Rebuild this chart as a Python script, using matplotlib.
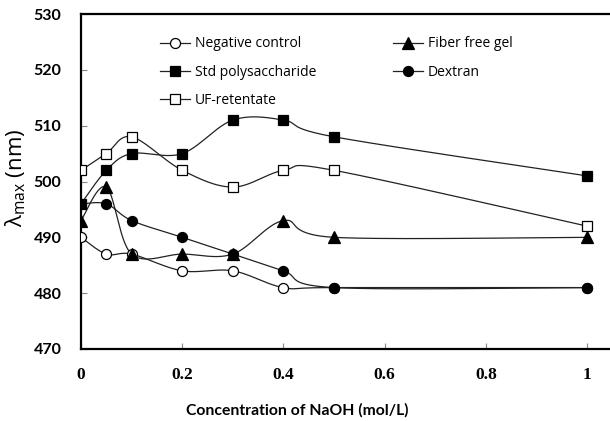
import numpy as np
import matplotlib
matplotlib.use("Agg")
import matplotlib.pyplot as plt
from matplotlib.lines import Line2D

# NaOH concentration (mol/L)
naoh = [0, 0.05, 0.1, 0.2, 0.3, 0.4, 0.5, 1.0]

# lambda max (nm) for each sample
negative_control = [490, 487, 487, 484, 484, 481, 481, 481]
fiber_free_gel = [493, 499, 487, 487, 487, 493, 490, 490]
std_polysaccharide = [496, 502, 505, 505, 511, 511, 508, 501]
dextran = [496, 496, 493, 490, 487, 484, 481, 481]
uf_retentate = [502, 505, 508, 502, 499, 502, 502, 492]

W, H = 610, 421
fig = plt.figure(figsize=(W / 100, H / 100), dpi=100)
ax = fig.add_axes([81 / W, (H - 349) / H, (W - 81) / W, (349 - 14) / H])
ax.set_xlim(0, 1.045)
ax.set_ylim(470, 530)


def smooth(xs, ys, n=40):
    """Spline-smoothed path through the points (Bezier segments, Catmull-Rom style)."""
    # work in screen-like units so the curvature looks right
    sx, sy = 506.0, 335.0 / 60.0
    P = np.column_stack([np.asarray(xs) * sx, np.asarray(ys) * sy])
    out = []
    m = len(P)
    for i in range(m - 1):
        p0 = P[i - 1] if i > 0 else P[i]
        p1 = P[i]
        p2 = P[i + 1]
        p3 = P[i + 2] if i + 2 < m else P[i + 1]
        c1 = p1 + (p2 - p0) / 6.0
        c2 = p2 - (p3 - p1) / 6.0
        t = np.linspace(0, 1, n)[:, None]
        seg = ((1 - t) ** 3) * p1 + 3 * ((1 - t) ** 2) * t * c1 + 3 * (1 - t) * t ** 2 * c2 + t ** 3 * p2
        if i > 0:
            seg = seg[1:]
        out.append(seg)
    out = np.vstack(out)
    return out[:, 0] / sx, out[:, 1] / sy


series = [
    ("Negative control", negative_control, "o", "white"),
    ("Std polysaccharide", std_polysaccharide, "s", "black"),
    ("UF-retentate", uf_retentate, "s", "white"),
    ("Fiber free gel", fiber_free_gel, "^", "black"),
    ("Dextran", dextran, "o", "black"),
]

handles = []
for label, ys, mk, fc in series:
    cx, cy = smooth(naoh, ys)
    ax.plot(cx, cy, color="#222222", lw=0.9, zorder=2)
    ms = 7.2 if mk != "^" else 8.0
    ax.plot(naoh, ys, linestyle="none", marker=mk, markersize=ms,
            markerfacecolor=fc, markeredgecolor="black", markeredgewidth=0.9, zorder=3)
    handles.append(Line2D([], [], color="#222222", lw=0.9, marker=mk, markersize=ms,
                          markerfacecolor=fc, markeredgecolor="black", markeredgewidth=0.9,
                          label=label))

leg_kw = dict(loc="upper left", frameon=False,
              prop={"family": "Open Sans", "size": 10},
              handlelength=2.15, handletextpad=0.36, labelspacing=0.95,
              borderaxespad=0, borderpad=0)
leg1 = ax.legend(handles=handles[:3], bbox_to_anchor=(0.149, 0.933), **leg_kw)
ax.add_artist(leg1)
ax.legend(handles=handles[3:], bbox_to_anchor=(0.590, 0.933), **leg_kw)

for s in ["left", "bottom", "top"]:
    ax.spines[s].set_linewidth(1.6)
    ax.spines[s].set_color("black")
ax.spines["right"].set_visible(False)

ax.set_yticks(np.arange(470, 531, 10))
ax.set_xticks([0, 0.2, 0.4, 0.6, 0.8, 1.0])
ax.set_xticklabels(["0", "0.2", "0.4", "0.6", "0.8", "1"])
ax.tick_params(axis="both", direction="in", length=4, width=0.8, color="#888888")
ax.tick_params(axis="y", pad=14)
ax.tick_params(axis="x", pad=13)
for t in ax.get_yticklabels():
    t.set_fontfamily("Lato")
    t.set_fontweight("bold")
    t.set_fontsize(11.5)
for t in ax.get_xticklabels():
    t.set_fontfamily("Liberation Serif")
    t.set_fontweight("bold")
    t.set_fontsize(12.5)

ax.set_xlabel("Concentration of NaOH (mol/L)", fontfamily="Lato", fontweight="bold",
              fontsize=11.3)
ax.xaxis.set_label_coords(0.408, -0.16)
ax.set_ylabel(r"λ$_{\mathregular{max}}$ (nm)", fontfamily="Open Sans", fontsize=16)
ax.yaxis.set_label_coords(-0.10, 0.51)

fig.savefig("out.png", dpi=100)
